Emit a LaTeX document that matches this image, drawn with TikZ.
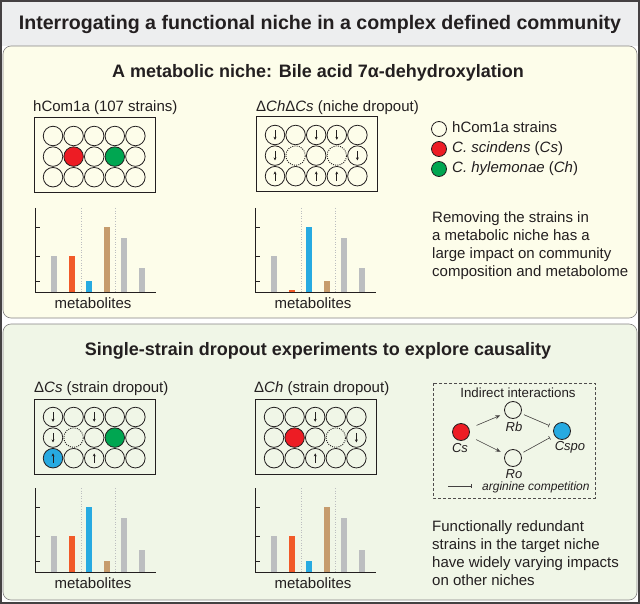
\documentclass[tikz,border=0pt]{standalone}
\usepackage{fontspec}
\setmainfont{Liberation Sans}
\usepackage{tikz}
\usetikzlibrary{arrows.meta}
\definecolor{ink}{HTML}{231F20}
\definecolor{band}{HTML}{EDEEEF}
\definecolor{cream}{HTML}{FDFDEA}
\definecolor{mint}{HTML}{F0F6E7}
\definecolor{csred}{HTML}{ED1C24}
\definecolor{chgreen}{HTML}{00A651}
\definecolor{spoblue}{HTML}{27AAE1}
\definecolor{barorange}{HTML}{F15A29}
\definecolor{barbrown}{HTML}{C69C6D}
\definecolor{bargray}{HTML}{BCBEC0}

\begin{document}
\begin{tikzpicture}[x=1pt,y=-1pt,font=\fontsize{15}{18}\selectfont,text=ink,
  well/.style={circle,draw=ink,line width=.8pt,minimum size=19.5pt,inner sep=0pt},
  gone/.style={well,draw=ink,line width=.9pt,dash pattern=on 1pt off 1.2pt},
  arrdn/.style={path picture={\draw[ink,line width=.7pt,-{Stealth[length=3pt,width=3pt]}]
      ([yshift=4.8pt]path picture bounding box.center)--([yshift=-4.8pt]path picture bounding box.center);}},
  arrup/.style={path picture={\draw[ink,line width=.7pt,-{Stealth[length=3pt,width=3pt]}]
      ([yshift=-4.8pt]path picture bounding box.center)--([yshift=4.8pt]path picture bounding box.center);}},
  dn/.style={well,arrdn},up/.style={well,arrup},
  wcs/.style={well,fill=csred},wch/.style={well,fill=chgreen},wspoup/.style={well,fill=spoblue,arrup},
  plate/.style={draw=ink,line width=1pt},
  head/.style={anchor=base,font=\bfseries\fontsize{18}{22}\selectfont},
  lab/.style={anchor=base west,inner sep=0pt},
  dot/.style={circle,draw=ink,line width=.8pt,minimum size=17pt,inner sep=0pt},
  tag/.style={anchor=base,inner sep=0pt,font=\itshape\fontsize{13}{15}\selectfont},
  link/.style={draw=ink!85,line width=.6pt}]
  % panels
  \fill[white] (0,0) rectangle (640,604);
  \fill[band] (0,0) rectangle (640,46);
  \filldraw[fill=cream,draw=ink!55,line width=.6pt,rounded corners=8pt] (3,46) rectangle (637,318);
  \filldraw[fill=mint,draw=ink!55,line width=.6pt,rounded corners=8pt] (3,324) rectangle (637,600);
  \draw[ink!85,line width=2pt] (1,1) rectangle (639,603);
  \node[head,font=\bfseries\fontsize{19.6}{23}\selectfont] (title) at (320,30)
    {Interrogating a functional niche in a complex defined community};
  \node[head] (sec1) at (318,78) {A metabolic niche: Bile acid 7α-dehydroxylation};
  \node[head] (sec2) at (318,355) {Single-strain dropout experiments to explore causality};
  % plates
  \node[lab] (full-t) at (33,112) {hCom1a (107 strains)};
  \node[lab] (niche-t) at (256,112) {Δ\textit{Ch}Δ\textit{Cs} (niche dropout)};
  \node[lab] (dcs-t) at (34,392) {Δ\textit{Cs} (strain dropout)};
  \node[lab] (dch-t) at (254,392) {Δ\textit{Ch} (strain dropout)};
  \foreach \px/\py/\p/\cells in {
    34/118/full/{well,well,well,well,well, well,wcs,well,wch,well, well,well,well,well,well},
    256/117/niche/{dn,well,dn,dn,well, dn,gone,well,gone,dn, up,well,up,up,well},
    34/399/dcs/{dn,well,dn,well,well, dn,gone,well,wch,well, wspoup,well,up,well,well},
    255/399/dch/{well,well,dn,well,well, well,wcs,well,gone,dn, well,well,up,well,well}}{
    \draw[plate] (\px,\py) rectangle +(121,75);
    \foreach \k [count=\i from 0] in \cells
      \node[\k] (\p-\i) at ({\px+19+20.6*mod(\i,5)},{\py+18+20.6*div(\i,5)}) {};
  }
  % bar charts
  \foreach \cx/\cy/\bars [count=\n] in {
    35/292/{36/bargray,36/barorange,11/spoblue,65/barbrown,54/bargray,24/bargray},
    255/292/{36/bargray,2/barorange,65/spoblue,11/barbrown,54/bargray,24/bargray},
    35/572/{36/bargray,36/barorange,65/spoblue,11/barbrown,54/bargray,22/bargray},
    255/572/{36/bargray,36/barorange,11/spoblue,65/barbrown,54/bargray,22/bargray}}{
    \draw[bargray,dotted,line width=.6pt] (\cx+46,\cy-84) -- (\cx+46,\cy) (\cx+80,\cy-84) -- (\cx+80,\cy);
    \foreach \h/\col [count=\j from 0] in \bars
      \fill[\col] (\cx+16+17.6*\j,\cy) rectangle +(6,-\h);
    \draw[ink,line width=.8pt] (\cx,\cy-84) -- (\cx,\cy) -- (\cx+121,\cy);
    \foreach \t in {11,36,65}
      \draw[ink,line width=.8pt] (\cx,\cy-\t) -- +(5,0);
    \node[anchor=base] (met\n) at (\cx+58,\cy+16) {metabolites};
  }
  % key
  \node[well,minimum size=15pt] (key1) at (439,129) {};
  \node[well,minimum size=15pt,fill=csred] (key2) at (439,149) {};
  \node[well,minimum size=15pt,fill=chgreen] (key3) at (439,169) {};
  \node[lab] (key1-t) at (452,133) {hCom1a strains};
  \node[lab] (key2-t) at (452,153) {\textit{C. scindens} (\textit{Cs})};
  \node[lab] (key3-t) at (452,173) {\textit{C. hylemonae} (\textit{Ch})};
  \node[lab,align=left] (note1) at (432,276.5)
    {Removing the strains in\\a metabolic niche has a\\large impact on community\\composition and metabolome};
  \node[lab,align=left] (note2) at (432,585)
    {Functionally redundant\\strains in the target niche\\have widely varying impacts\\on other niches};
  % indirect interactions
  \draw[ink!80,line width=.6pt,dash pattern=on 3pt off 2pt] (433,383) rectangle (595,498);
  \node[tag,font=\fontsize{13.3}{15}\selectfont] (ind) at (518,397) {Indirect interactions};
  \node[dot,fill=csred] (cs) at (461,432) {};
  \node[dot] (rb) at (513,410) {};
  \node[dot] (ro) at (513,458) {};
  \node[dot,fill=spoblue] (cspo) at (562,431) {};
  \node[tag] (cs-t) at (460,452) {Cs};
  \node[tag] (rb-t) at (514,431) {Rb};
  \node[tag] (ro-t) at (514,478) {Ro};
  \node[tag] (cspo-t) at (570,450) {Cspo};
  \draw[link,-{Stealth[length=5pt,width=4pt]},shorten <=8pt,shorten >=5pt] (cs) -- (rb);
  \draw[link,-{Stealth[length=5pt,width=4pt]},shorten <=8pt,shorten >=5pt] (cs) -- (ro);
  \draw[link,-{Bar[width=4pt]},shorten <=3pt,shorten >=5pt] (rb) -- (cspo);
  \draw[link,-{Bar[width=4pt]},shorten <=3pt,shorten >=5pt] (ro) -- (cspo);
  \coordinate (key-a) at (448,486);
  \coordinate (key-b) at (472,486);
  \draw[link,-{Bar[width=4pt]}] (key-a) -- (key-b);
  \node[tag,anchor=base west,font=\itshape\fontsize{12}{14}\selectfont] (arg) at (482,490) {arginine competition};
\end{tikzpicture}
\end{document}
